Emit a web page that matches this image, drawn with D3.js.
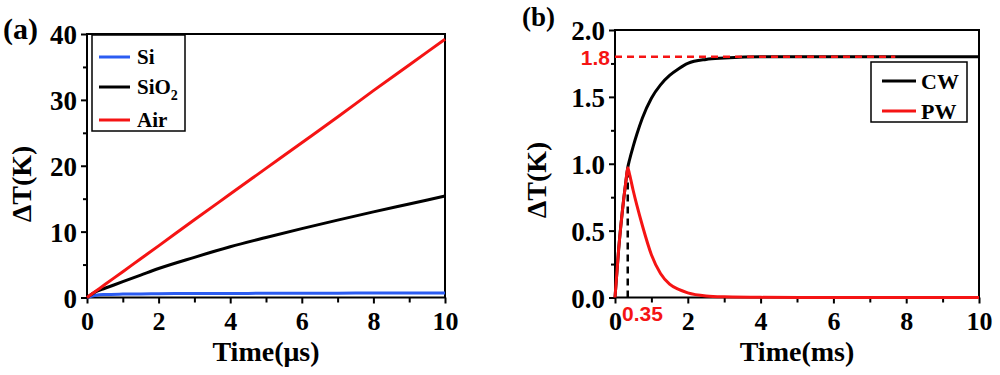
<!DOCTYPE html>
<html>
<head>
<meta charset="utf-8">
<script src="https://cdn.jsdelivr.net/npm/d3@7"></script>
<style>
  body { margin: 0; background: #fff; }
  svg { display: block; }
  text { font-family: "Liberation Serif", "Times New Roman", serif; font-weight: bold; }
  .ann { font-family: "Liberation Sans", Arial, sans-serif; font-weight: bold; }
</style>
</head>
<body>
<svg width="1000" height="375"></svg>
<script>
// panel (a): temperature rise vs time (us)
const timeA = [0, 0.25, 0.5, 1, 1.5, 2, 3, 4, 5, 6, 7, 8, 9, 10];
const siA   = [0, 0.35, 0.45, 0.52, 0.55, 0.58, 0.6, 0.62, 0.63, 0.65, 0.66, 0.67, 0.68, 0.68];
const sio2A = [0, 0.9, 1.4, 2.4, 3.4, 4.4, 6.1, 7.7, 9.1, 10.45, 11.75, 13.0, 14.2, 15.4];
const airA  = [0, 0.98, 1.96, 3.92, 5.88, 7.84, 11.8, 15.7, 19.6, 23.5, 27.4, 31.4, 35.3, 39.2];
const xTicksA = [0, 2, 4, 6, 8, 10];
const yTicksA = [0, 10, 20, 30, 40];

// panel (b): temperature rise vs time (ms)
const timeB = [0, 0.1, 0.2, 0.3, 0.35, 0.4, 0.5, 0.6, 0.75, 1, 1.25, 1.5, 1.75, 2, 2.5, 3, 4, 6, 10];
const cwB   = [0, 0.36, 0.64, 0.87, 0.97, 1.03, 1.13, 1.22, 1.34, 1.49, 1.59, 1.66, 1.71, 1.75, 1.78, 1.79, 1.8, 1.8, 1.8];
const pwB   = [0, 0.36, 0.64, 0.87, 0.97, 0.92, 0.8, 0.69, 0.54, 0.32, 0.18, 0.1, 0.06, 0.035, 0.012, 0.005, 0.001, 0, 0];
const xTicksB = [0, 2, 4, 6, 8, 10];
const yTicksB = [0, 0.5, 1.0, 1.5, 2.0];
const steadyB = 1.8, pulseEnd = 0.35, dashEnd = 7.7;

const svg = d3.select("svg");

function panel(o) {
  const x = d3.scaleLinear().domain(o.xd).range([o.l, o.r]);
  const y = d3.scaleLinear().domain(o.yd).range([o.b, o.t]);
  const g = svg.append("g");

  // minor ticks
  g.append("g").attr("transform", `translate(0,${o.b})`)
    .call(d3.axisBottom(x).tickValues(o.xMinor).tickSize(5).tickFormat(""));
  g.append("g").attr("transform", `translate(${o.l},0)`)
    .call(d3.axisLeft(y).tickValues(o.yMinor).tickSize(4).tickFormat(""));

  // major ticks + labels
  const ax = g.append("g").attr("transform", `translate(0,${o.b})`)
    .call(d3.axisBottom(x).tickValues(o.xTicks).tickSize(6).tickPadding(8).tickFormat(d3.format("d")));
  ax.selectAll("text").attr("font-size", 26).attr("fill", "#000");
  const ay = g.append("g").attr("transform", `translate(${o.l},0)`)
    .call(d3.axisLeft(y).tickValues(o.yTicks).tickSize(6).tickPadding(4).tickFormat(o.yFmt));
  ay.selectAll("text").attr("font-size", 27).attr("fill", "#000").attr("dy", "0.36em");
  g.selectAll(".domain").remove();
  g.selectAll(".tick line").attr("stroke", "#000").attr("stroke-width", 2);

  // frame
  g.append("rect").attr("x", o.l).attr("y", o.t)
    .attr("width", o.r - o.l).attr("height", o.b - o.t)
    .attr("fill", "none").attr("stroke", "#000").attr("stroke-width", 2);

  // titles
  g.append("text").attr("x", (o.l + o.r) / 2).attr("y", 361)
    .attr("text-anchor", "middle").attr("font-size", 28).text(o.xTitle);
  g.append("text").attr("transform", `translate(${o.yTitleX},${o.yTitleY}) rotate(-90)`)
    .attr("text-anchor", "middle").attr("font-size", 28).text("ΔT(K)");
  g.append("text").attr("x", o.tagX).attr("y", o.tagY).attr("font-size", o.tagSize).text(o.tag);
  return { x, y, g };
}

// ---- panel (a)
const A = panel({
  l: 87, r: 445, t: 34, b: 297.5, xd: [0, 10], yd: [0, 40],
  xTicks: xTicksA, yTicks: yTicksA, xMinor: [1, 3, 5, 7, 9], yMinor: [5, 15, 25, 35],
  yFmt: d3.format("d"), xTitle: "Time(μs)", yTitleX: 31, yTitleY: 184,
  tag: "(a)", tagX: 3, tagY: 39, tagSize: 30
});
const lineA = d3.line().x((d, i) => A.x(timeA[i])).y(d => A.y(d)).curve(d3.curveMonotoneX);
const seriesA = [
  { name: "Si", vals: siA, color: "#2b5cf2" },
  { name: "SiO2", vals: sio2A, color: "#000" },
  { name: "Air", vals: airA, color: "#f51414" }
];
A.g.selectAll(".sa").data(seriesA).enter().append("path")
  .attr("d", d => lineA(d.vals)).attr("fill", "none")
  .attr("stroke", d => d.color).attr("stroke-width", 3);

// legend (a)
const legA = A.g.append("g");
legA.append("rect").attr("x", 92).attr("y", 35).attr("width", 93).attr("height", 96)
  .attr("fill", "#fff").attr("stroke", "#000").attr("stroke-width", 1.5);
const legAy = [57, 87, 120];
seriesA.forEach((s, i) => {
  legA.append("line").attr("x1", 99).attr("x2", 130).attr("y1", legAy[i]).attr("y2", legAy[i])
    .attr("stroke", s.color).attr("stroke-width", 3);
  const t = legA.append("text").attr("x", 137).attr("y", legAy[i] + 7).attr("font-size", 21);
  if (s.name === "SiO2") {
    t.text("SiO");
    t.append("tspan").attr("font-size", 14).attr("dy", 6).text("2");
  } else t.text(s.name);
});

// ---- panel (b)
const B = panel({
  l: 615, r: 979, t: 30, b: 297.5, xd: [0, 10], yd: [0, 2],
  xTicks: xTicksB, yTicks: yTicksB, xMinor: [1, 3, 5, 7, 9], yMinor: [0.25, 0.75, 1.25, 1.75],
  yFmt: d3.format(".1f"), xTitle: "Time(ms)", yTitleX: 546, yTitleY: 180,
  tag: "(b)", tagX: 522, tagY: 26, tagSize: 27
});
const lineB = d3.line().x((d, i) => B.x(timeB[i])).y(d => B.y(d)).curve(d3.curveMonotoneX);
B.g.append("path").attr("d", lineB(cwB)).attr("fill", "none").attr("stroke", "#000").attr("stroke-width", 3);

// annotations
B.g.append("line").attr("x1", B.x(pulseEnd)).attr("x2", B.x(pulseEnd))
  .attr("y1", B.y(0)).attr("y2", B.y(0.97))
  .attr("stroke", "#000").attr("stroke-width", 2.5).attr("stroke-dasharray", "7,5");
B.g.append("line").attr("x1", B.x(0)).attr("x2", B.x(dashEnd))
  .attr("y1", B.y(steadyB)).attr("y2", B.y(steadyB))
  .attr("stroke", "#f51414").attr("stroke-width", 2.5).attr("stroke-dasharray", "7,5");

B.g.append("path").attr("d", lineB(pwB)).attr("fill", "none").attr("stroke", "#f51414").attr("stroke-width", 3);

B.g.append("text").attr("class", "ann").attr("x", 610).attr("y", B.y(steadyB) + 8)
  .attr("text-anchor", "end").attr("font-size", 21).attr("fill", "#f51414").text("1.8");
B.g.append("text").attr("class", "ann").attr("x", 622).attr("y", 321)
  .attr("font-size", 21).attr("fill", "#f51414").text("0.35");

// legend (b)
const legB = B.g.append("g");
legB.append("rect").attr("x", 871).attr("y", 62).attr("width", 96).attr("height", 60)
  .attr("fill", "#fff").attr("stroke", "#000").attr("stroke-width", 1.5);
[{ name: "CW", color: "#000", y: 81 }, { name: "PW", color: "#f51414", y: 111 }].forEach(s => {
  legB.append("line").attr("x1", 882).attr("x2", 916).attr("y1", s.y).attr("y2", s.y)
    .attr("stroke", s.color).attr("stroke-width", 3);
  legB.append("text").attr("x", 921).attr("y", s.y + 8).attr("font-size", 22).text(s.name);
});
</script>
</body>
</html>
